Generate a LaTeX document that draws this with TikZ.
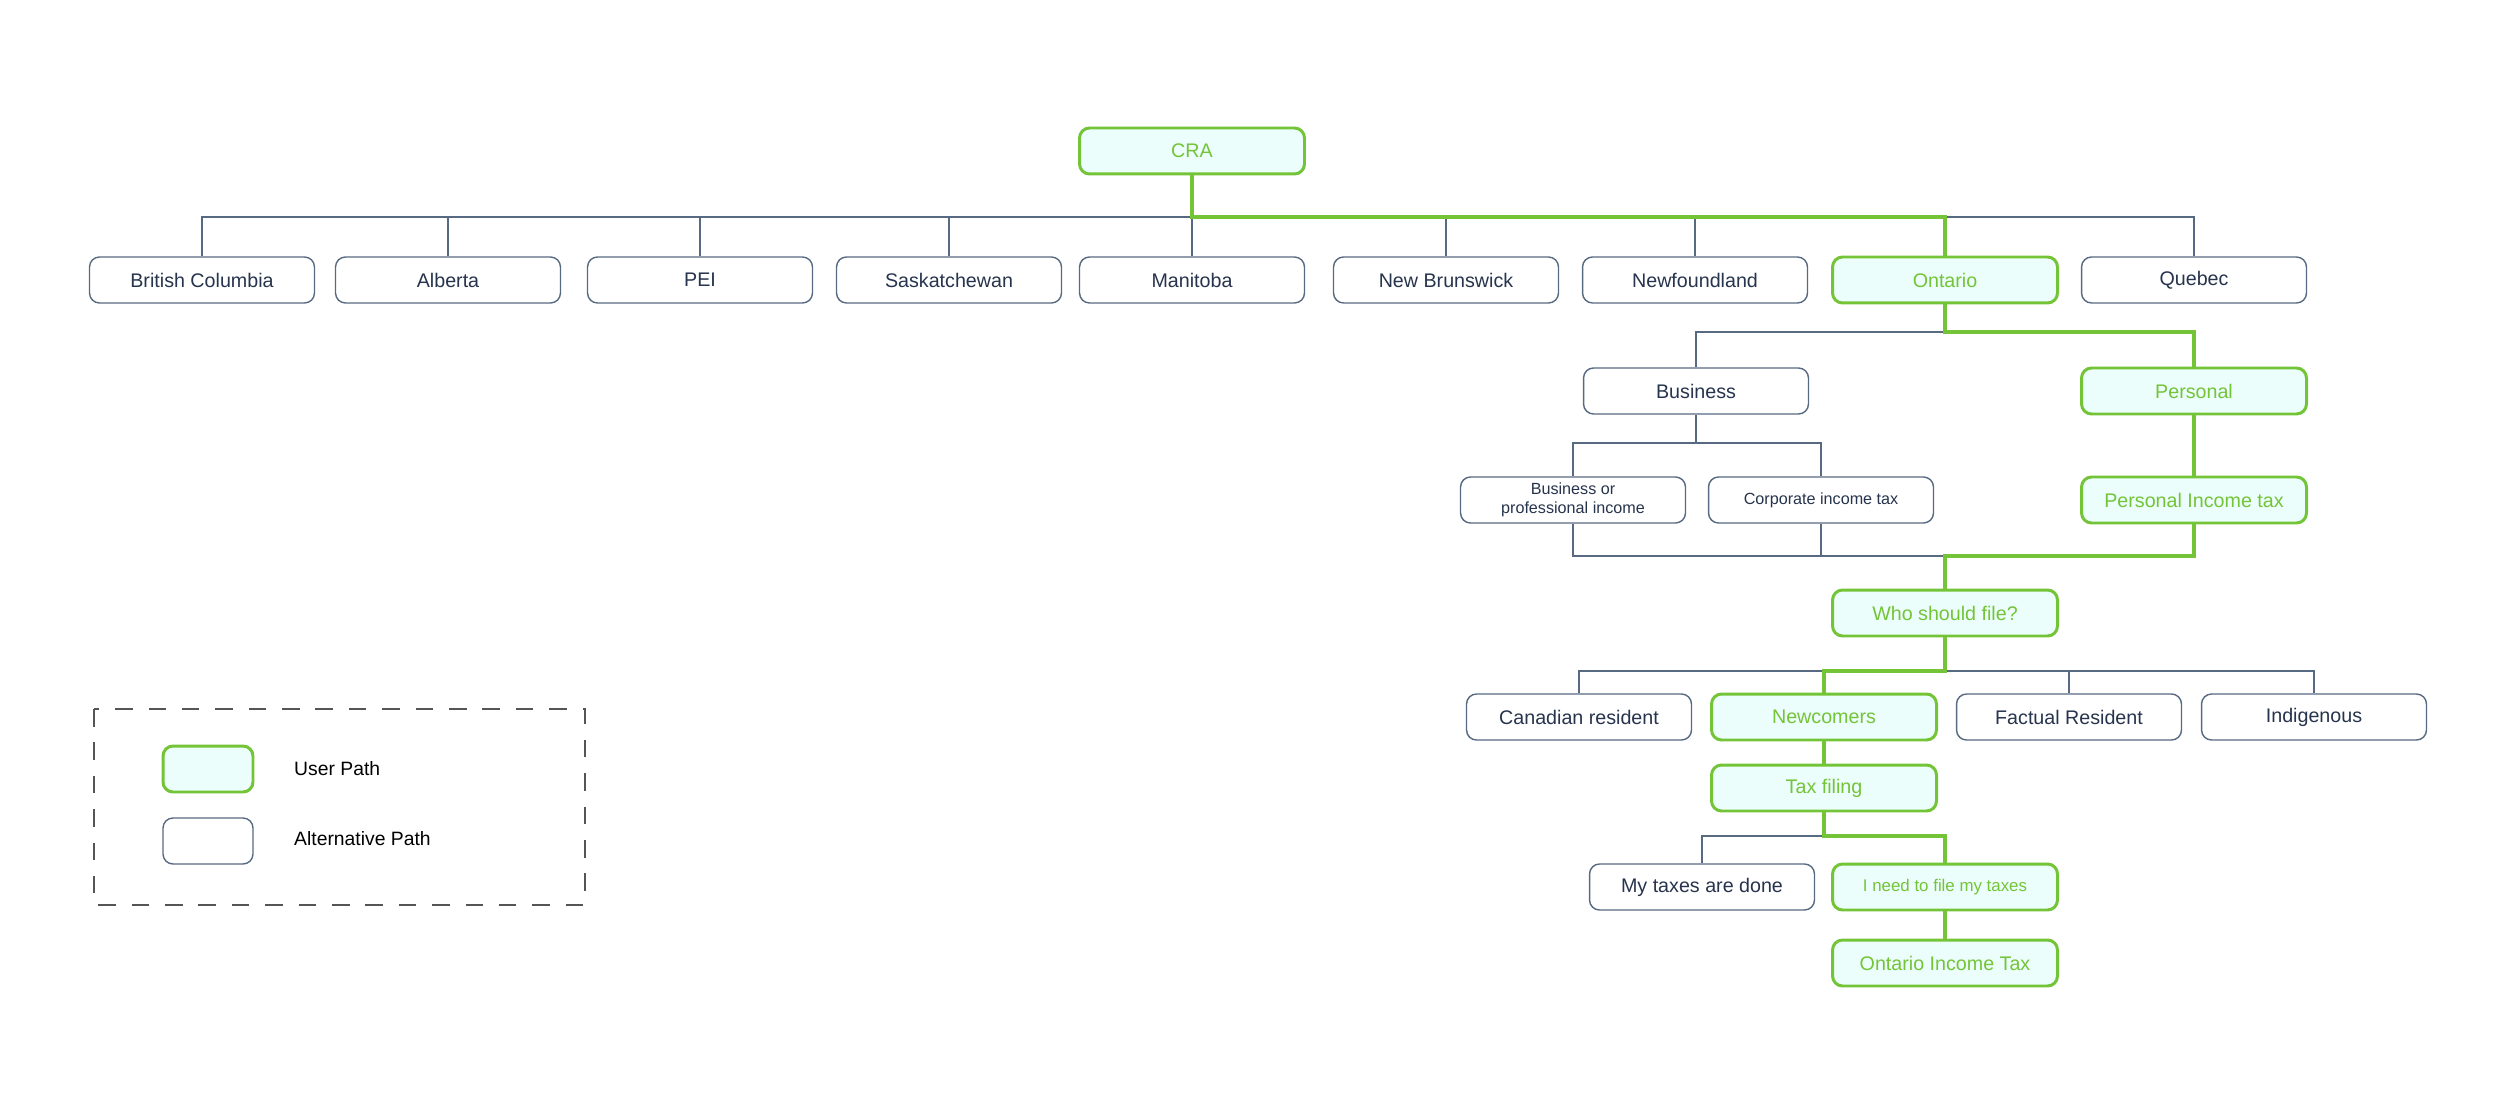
\documentclass[tikz,border=0pt]{standalone}
\usepackage{fontspec}
\setmainfont{Liberation Sans}
\definecolor{usergreen}{HTML}{74C438}
\definecolor{userfill}{HTML}{EBFEFB}
\definecolor{altgray}{HTML}{586A82}
\definecolor{alttext}{HTML}{27344D}
\definecolor{keygray}{HTML}{555555}

\begin{document}
\begin{tikzpicture}[x=0.02cm, y=-0.02cm,
	altbox/.style={draw=altgray, line width=0.8pt, rounded corners=0.2cm, fill=white,
		text=alttext, minimum width=4.5cm, minimum height=0.92cm, inner sep=1pt,
		font=\fontsize{11.2}{13}\selectfont},
	userbox/.style={altbox, draw=usergreen, line width=1.7pt, fill=userfill, text=usergreen},
	smalltext/.style={font=\fontsize{9.2}{10.5}\selectfont, align=center},
	altline/.style={draw=altgray, line width=1.1pt},
	userline/.style={draw=usergreen, line width=1.8pt},
	keytext/.style={anchor=west, text=black, font=\fontsize{11}{13}\selectfont}]

	\useasboundingbox (0,0) rectangle (2500,1104);

	% top level
	\node[userbox] (cra) at (1192,151) {CRA};

	\node[altbox] (bc)  at (202,280)  {British Columbia};
	\node[altbox] (ab)  at (448,280)  {Alberta};
	\node[altbox] (pei) at (700,280)  {PEI};
	\node[altbox] (sk)  at (949,280)  {Saskatchewan};
	\node[altbox] (mb)  at (1192,280) {Manitoba};
	\node[altbox] (nb)  at (1446,280) {New Brunswick};
	\node[altbox] (nl)  at (1695,280) {Newfoundland};
	\node[userbox] (on) at (1945,280) {Ontario};
	\node[altbox] (qc)  at (2194,280) {Quebec};

	% ontario
	\node[altbox] (bus)   at (1696,391) {Business};
	\node[userbox] (pers) at (2194,391) {Personal};
	\node[altbox, smalltext] (bop)  at (1573,500) {Business or\\professional income};
	\node[altbox, smalltext] (corp) at (1821,500) {Corporate income tax};
	\node[userbox] (pit)  at (2194,500) {Personal Income tax};
	\node[userbox] (who)  at (1945,613) {Who should file?};

	\node[altbox] (canres) at (1579,717) {Canadian resident};
	\node[userbox] (newc)  at (1824,717) {Newcomers};
	\node[altbox] (fact)   at (2069,717) {Factual Resident};
	\node[altbox] (indig)  at (2314,717) {Indigenous};

	\node[userbox] (tax)  at (1824,788) {Tax filing};
	\node[altbox] (done)  at (1702,887) {My taxes are done};
	\node[userbox, font=\fontsize{9.6}{11}\selectfont] (need) at (1945,887) {I need to file my taxes};
	\node[userbox] (ontax) at (1945,963) {Ontario Income Tax};

	% split points
	\coordinate (top)      at (1192,217);
	\coordinate (onsplit)  at (1945,332);
	\coordinate (bussplit) at (1696,443);
	\coordinate (merge)    at (1945,556);
	\coordinate (whosplit) at (1945,671);
	\coordinate (taxsplit) at (1824,836);

	% alternative paths
	\draw[altline] (bc.north) |- (top) -| (qc.north);
	\foreach \prov in {ab,pei,sk,mb,nb,nl}
		\draw[altline] (\prov.north) -- (\prov.north |- top);
	\draw[altline] (onsplit) -| (bus.north);
	\draw[altline] (bus.south) -- (bussplit) -| (bop.north);
	\draw[altline] (bussplit) -| (corp.north);
	\draw[altline] (bop.south) |- (merge);
	\draw[altline] (corp.south) -- (corp.south |- merge);
	\draw[altline] (canres.north) |- (whosplit) -| (indig.north);
	\draw[altline] (fact.north) -- (fact.north |- whosplit);
	\draw[altline] (taxsplit) -| (done.north);

	% user path
	\draw[userline] (cra.south) -- (top) -| (on.north);
	\draw[userline] (on.south) -- (onsplit) -| (pers.north);
	\draw[userline] (pers) -- (pit);
	\draw[userline] (pit.south) |- (merge) -- (who.north);
	\draw[userline] (who.south) -- (whosplit) -| (newc.north);
	\draw[userline] (newc) -- (tax);
	\draw[userline] (tax.south) -- (taxsplit) -| (need.north);
	\draw[userline] (need) -- (ontax);

	% legend
	\draw[draw=keygray, line width=1pt, dash pattern=on 10pt off 9pt] (94,709) rectangle (585,905);
	\node[userbox, minimum width=1.8cm] (keyuser) at (208,769) {};
	\node[altbox, minimum width=1.8cm] (keyalt) at (208,841) {};
	\node[keytext] (keyusertext) at (288,769) {User Path};
	\node[keytext] (keyalttext)  at (288,839) {Alternative Path};

\end{tikzpicture}
\end{document}
